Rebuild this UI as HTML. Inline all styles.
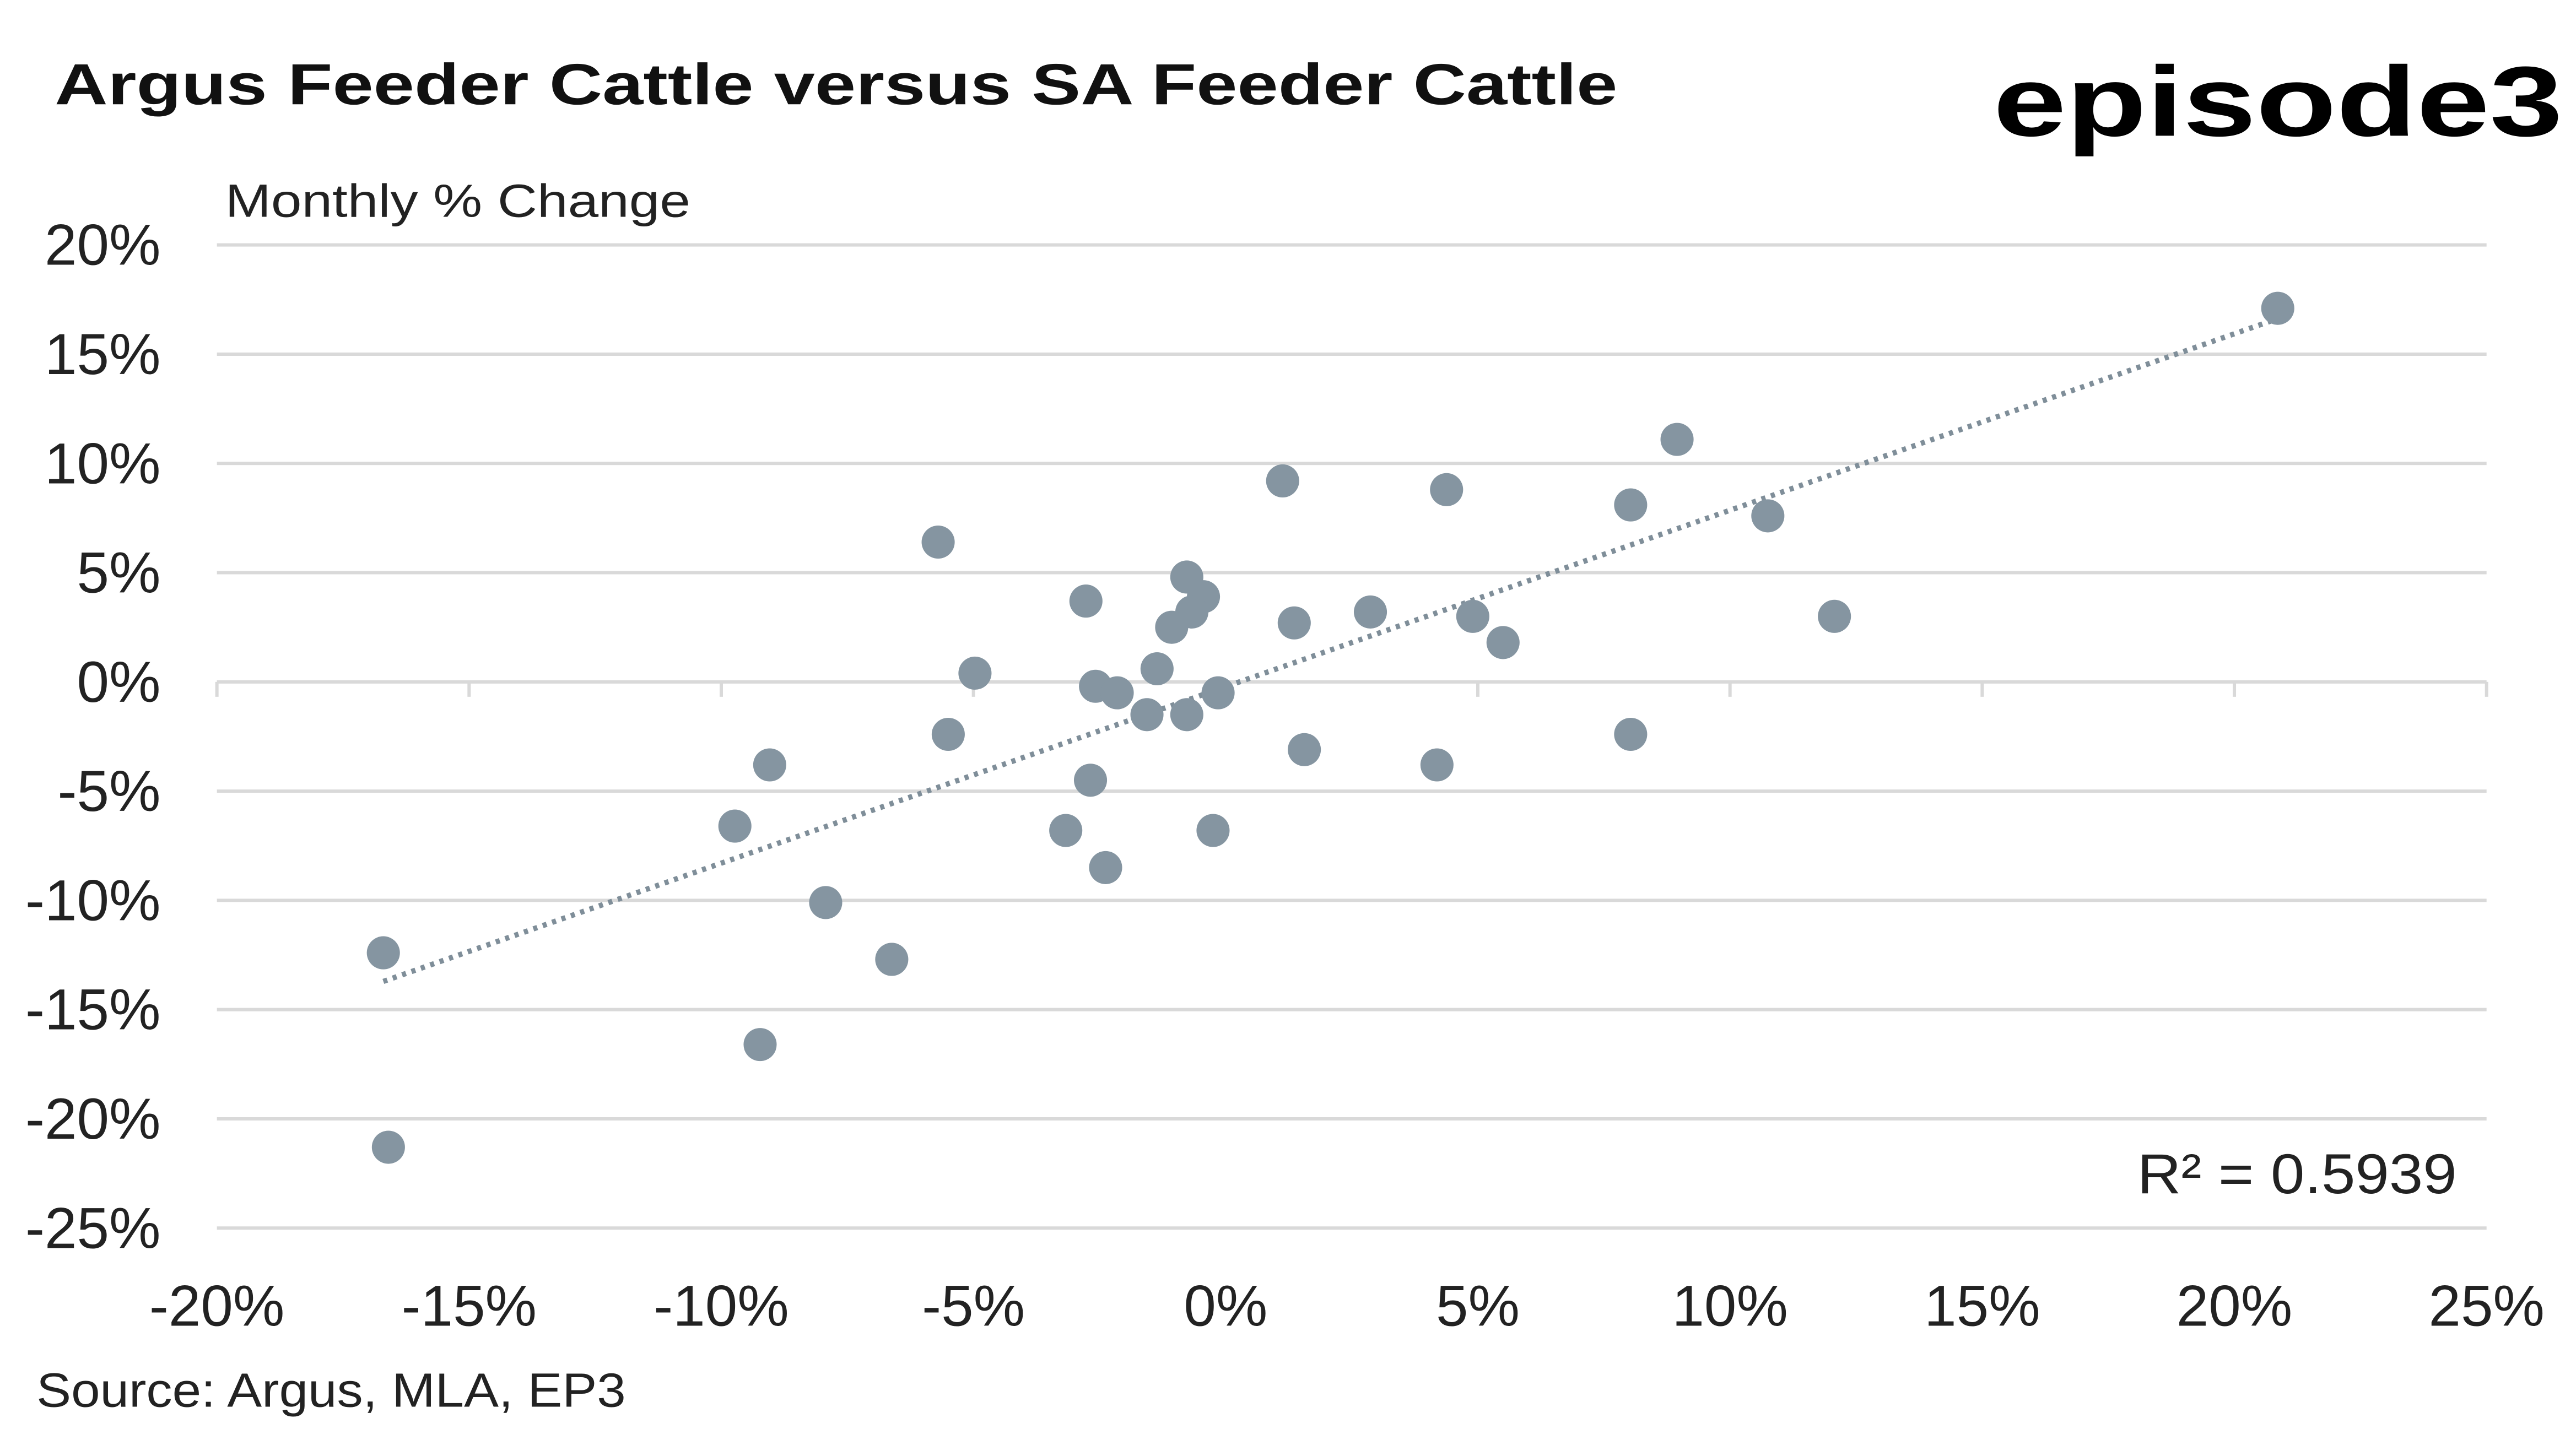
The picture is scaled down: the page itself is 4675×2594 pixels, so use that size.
<!DOCTYPE html>
<html><head><meta charset="utf-8"><style>
html,body{margin:0;padding:0;background:#fff;}
svg{display:block;font-family:"Liberation Sans",sans-serif;}
</style></head><body>
<svg id="chart" width="4675" height="2594" viewBox="0 0 1556 863.4" xmlns="http://www.w3.org/2000/svg">
<rect width="1556" height="863.4" fill="#fff"/>
<text x="33" y="63" font-size="35" font-weight="bold" fill="#111" textLength="944" lengthAdjust="spacingAndGlyphs">Argus Feeder Cattle versus SA Feeder Cattle</text>
<text x="1204" y="82" font-size="60" font-weight="bold" fill="#000" textLength="344" lengthAdjust="spacingAndGlyphs">episode3</text>
<text x="136" y="131" font-size="28" fill="#222" textLength="281" lengthAdjust="spacingAndGlyphs">Monthly % Change</text>
<g id="grid"></g>
<g id="axes"></g>
<g id="trend"></g>
<g id="points"></g>
<text x="1291" y="721" font-size="34" fill="#222" textLength="193" lengthAdjust="spacingAndGlyphs">R² = 0.5939</text>
<text x="22" y="850" font-size="29" fill="#222" textLength="356" lengthAdjust="spacingAndGlyphs">Source: Argus, MLA, EP3</text>
</svg>
<script>
const xTicks = [-20,-15,-10,-5,0,5,10,15,20,25];
const yTicks = [20,15,10,5,0,-5,-10,-15,-20,-25];
const xValues = [20.86,8.95,1.13,4.38,8.03,10.75,-5.7,-0.77,-2.77,-0.44,-0.67,-1.07,1.36,2.87,4.9,5.5,12.07,-4.97,-1.36,-2.58,-2.15,-0.15,-1.56,-0.77,-5.5,8.03,1.56,-9.04,4.19,-2.68,-9.73,-3.17,-0.25,-2.38,-7.93,-16.7,-6.62,-9.23,-16.6];
const yValues = [17.1,11.1,9.2,8.8,8.1,7.6,6.4,4.8,3.7,3.9,3.2,2.5,2.7,3.2,3.0,1.8,3.0,0.4,0.6,-0.2,-0.5,-0.5,-1.5,-1.5,-2.4,-2.4,-3.1,-3.8,-3.8,-4.5,-6.6,-6.8,-6.8,-8.5,-10.1,-12.4,-12.7,-16.6,-21.3];

const NS = "http://www.w3.org/2000/svg";
const X0 = 131, X1 = 1502, Y0 = 148, Y1 = 742;
const xMin = -20, xMax = 25, yMin = -25, yMax = 20;
function sx(v){ return X0 + (v - xMin) / (xMax - xMin) * (X1 - X0); }
function sy(v){ return Y1 - (v - yMin) / (yMax - yMin) * (Y1 - Y0); }
function mk(tag, attrs, parent){ const e = document.createElementNS(NS, tag); for (const k in attrs) e.setAttribute(k, attrs[k]); parent.appendChild(e); return e; }

const grid = document.getElementById('grid');
const axes = document.getElementById('axes');
yTicks.forEach(t => {
  const l = mk('line', {x1:X0, x2:X1, y1:sy(t), y2:sy(t), stroke:'#d9d9d9', 'stroke-width':2}, grid);
  
  
  const tx = mk('text', {x:97, y:sy(t)+12, 'font-size':35, fill:'#222', 'text-anchor':'end'}, axes);
  tx.textContent = t + '%';
  
  
});
xTicks.forEach(t => {
  const tk = mk('line', {x1:sx(t), x2:sx(t), y1:sy(0), y2:sy(0)+9, stroke:'#d9d9d9', 'stroke-width':2}, axes);
  
  
  const tx = mk('text', {x:sx(t), y:801, 'font-size':35, fill:'#222', 'text-anchor':'middle'}, axes);
  tx.textContent = t + '%';
  
  
});

const n = xValues.length;
let mx = 0, my = 0;
for (let i = 0; i < n; i++){ mx += xValues[i]; my += yValues[i]; }
mx /= n; my /= n;
let sxy = 0, sxx = 0;
for (let i = 0; i < n; i++){ sxy += (xValues[i]-mx)*(yValues[i]-my); sxx += (xValues[i]-mx)**2; }
const slope = sxy / sxx, icpt = my - slope * mx;
const xa = Math.min(...xValues), xb = Math.max(...xValues);
const tl = mk('line', {x1:sx(xa), y1:sy(slope*xa+icpt), x2:sx(xb), y2:sy(slope*xb+icpt), stroke:'#7f8e99', 'stroke-width':3.2, 'stroke-dasharray':'2.5 3.5'}, document.getElementById('trend'));



const pts = document.getElementById('points');
for (let i = 0; i < n; i++){
  const c = mk('circle', {cx:sx(xValues[i]), cy:sy(yValues[i]), r:10, fill:'#8595a1'}, pts);
  
  
}
</script>
</body></html>
